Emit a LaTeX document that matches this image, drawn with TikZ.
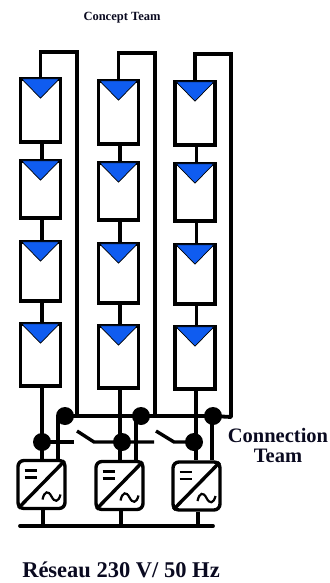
\documentclass[tikz,border=0pt]{standalone}
\usepackage{fontspec}
\setmainfont{Liberation Serif}
\definecolor{panelblue}{HTML}{0F5CF0}
\definecolor{labelink}{HTML}{0A0A20}
\tikzset{
	panelbox/.style={draw,line width=3.6pt,rectangle,minimum width=40pt,inner sep=0pt},
	inverterbox/.style={draw,line width=3.4pt,rectangle,rounded corners=6pt,minimum width=47pt,minimum height=48pt,inner sep=0pt},
	wire/.style={line width=3.8pt},
	thinwire/.style={line width=3.4pt},
	junction/.style={circle,fill=black,minimum size=18pt,inner sep=0pt},
	label/.style={text=labelink,align=center,inner sep=0pt}
}
\begin{document}
\begin{tikzpicture}[x=1pt,y=-1pt]
\useasboundingbox (0,0) rectangle (329,583);
% panels and their strings
\foreach \c/\x/\d in {1/40.5/0,2/118.5/2,3/195/3}{
	\foreach \r/\t/\b in {1/79/142,2/161/218,3/242/301,4/324/386}{
		\node[panelbox,minimum height={\b-\t}] (p\c\r) at (\x,{(\t+\b)/2+\d}) {};
		\begin{scope}[shift={(p\c\r.north)}]
			\draw[fill=panelblue,line width=0.7pt,line join=round] (-19,1.5) -- (19,1.5) -- (0,21) -- cycle;
		\end{scope}
	}
	\draw[wire] ([xshift=1.5pt]p\c1.south) -- ([xshift=1.5pt]p\c2.north);
	\draw[wire] ([xshift=1.5pt]p\c2.south) -- ([xshift=1.5pt]p\c3.north);
	\draw[wire] ([xshift=1.5pt]p\c3.south) -- ([xshift=1.5pt]p\c4.north);
}
% inverters
\foreach \c/\x/\y in {1/41.5/484.5,2/119.5/485.5,3/196.5/486}{
	\node[inverterbox] (i\c) at (\x,\y) {};
	\draw[thinwire] ([shift={(2,-2)}]i\c.south west) -- ([shift={(-2,2)}]i\c.north east);
	\begin{scope}[shift={(i\c.center)}]
		\draw[line width=2.2pt] (-17,-14) -- (-5,-14) (-17,-7) -- (-5,-7);
		\draw[line width=2.2pt] (1,15) .. controls (3,6) and (7,6) .. (10,12) .. controls (13,18) and (17,18) .. (19,10);
	\end{scope}
}
% junctions
\node[junction] (t1) at (65,416) {};
\node[junction] (t2) at (141,416) {};
\node[junction] (t3) at (213,416) {};
\node[junction] (d1) at (42,442) {};
\node[junction] (d2) at (122,442) {};
\node[junction] (d3) at (194,442) {};
\coordinate (c1) at (77,417);
\coordinate (c2) at (155,417);
\coordinate (c3) at (231,417);
% return wires
\draw[wire] (p11.north) -- (40.5,52) -| (c1);
\draw[wire] (p21.north) -- (118.5,53) -| (c2);
\draw[wire] (p31.north) -- (195,54) -| (c3);
\draw[wire,line cap=round] (t1.center) -- (t2.center) -- (t3.center) -- (c3);
% from the panels to the inverters
\draw[wire] ([xshift=1.5pt]p14.south) -- ([xshift=0.5pt]i1.north);
\draw[wire] ([xshift=1.5pt]p24.south) -- ([xshift=0.5pt]i2.north);
\draw[wire] ([xshift=1pt]p34.south) -- ([xshift=-0.5pt]i3.north);
\draw[thinwire] ([xshift=-7pt]t1.center) -- ([xshift=16.5pt]i1.north);
\draw[thinwire] ([xshift=-5pt]t2.center) -- ([xshift=16.5pt]i2.north);
\draw[thinwire] ([xshift=-1pt]t3.center) -- ([xshift=15.5pt]i3.north);
% switches
\coordinate (s1) at (74,442);
\coordinate (s2) at (154,442);
\draw[thinwire] (d1.center) -- (s1);
\draw[thinwire] (77,431) -- (94,442) -- (d2.center) -- (s2);
\draw[thinwire] (156,431) -- (174,442) -- (d3.center);
% grid
\coordinate (g1) at (20,526);
\coordinate (g2) at (213,526);
\draw[wire,line cap=round] (g1) -- (g2);
\draw[thinwire] ([xshift=1.5pt]i1.south) -- ([xshift=1.5pt]i1.south |- g1);
\draw[thinwire] ([xshift=1.5pt]i2.south) -- ([xshift=1.5pt]i2.south |- g1);
\draw[thinwire] ([xshift=1.5pt]i3.south) -- ([xshift=1.5pt]i3.south |- g1);
% labels
\node[label,font=\bfseries\fontsize{12.5}{14}\selectfont] (concept) at (122,18) {Concept Team};
\node[label,font=\bfseries\fontsize{20.5}{20}\selectfont] (connection) at (278,445) {Connection\\Team};
\node[label,font=\bfseries\fontsize{22.5}{24}\selectfont] (reseau) at (121,570) {Réseau 230 V/ 50 Hz};
\end{tikzpicture}
\end{document}
